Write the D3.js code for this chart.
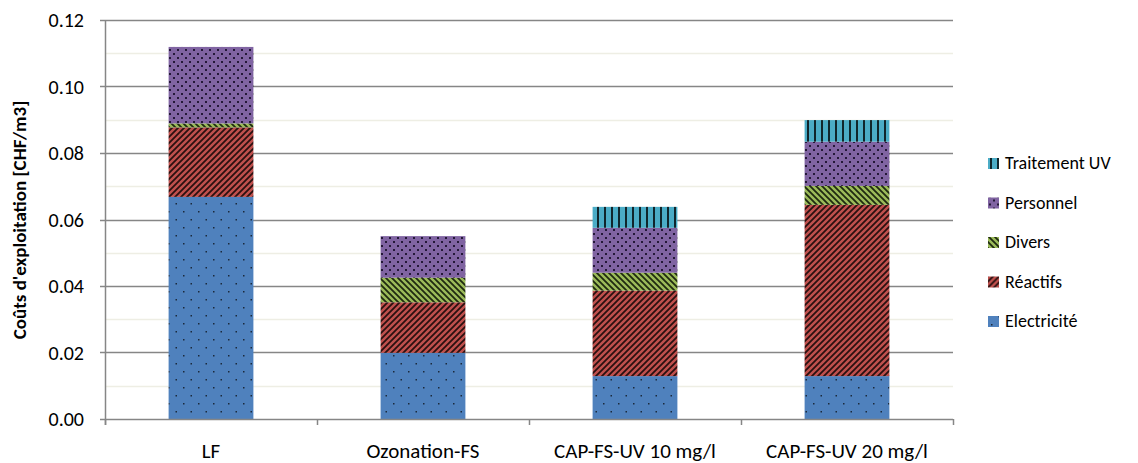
<!DOCTYPE html>
<html><head><meta charset="utf-8">
<script src="https://cdn.jsdelivr.net/npm/d3@7"></script>
<style>body{margin:0;background:#fff}svg{display:block}text{font-family:Carlito,"Liberation Sans Narrow","Liberation Sans",sans-serif}</style>
</head><body><svg id="c" width="1138" height="463"></svg>
<script>
const categories = ["LF", "Ozonation-FS", "CAP-FS-UV 10 mg/l", "CAP-FS-UV 20 mg/l"];
const seriesNames = ["Electricité", "Réactifs", "Divers", "Personnel", "Traitement UV"];
const electricite = [0.0668, 0.0199, 0.0129, 0.0129];
const reactifs = [0.0209, 0.0152, 0.0257, 0.0515];
const divers = [0.0012, 0.0074, 0.0054, 0.0057];
const personnel = [0.0230, 0.0125, 0.0135, 0.0133];
const traitementUV = [0, 0, 0.0063, 0.0065];
const yTicks = [0, 0.02, 0.04, 0.06, 0.08, 0.10, 0.12];
const yMinor = [0.01, 0.03, 0.05, 0.07, 0.09, 0.11];
const colors = ["#4F81BD", "#C0504D", "#9BBB59", "#8064A2", "#4BACC6"];

const svg = d3.select("#c");
const m = {l: 105, r: 953, t: 20, b: 419};
const x = d3.scaleBand().domain(categories).range([m.l, m.r]).paddingInner(0.6).paddingOuter(0.3);
const xb = d3.scaleBand().domain(categories).range([m.l, m.r]);
const y = d3.scaleLinear().domain([0, 0.12]).range([m.b, m.t]);

const defs = svg.append("defs");
// Electricité: sparse dots
let p = defs.append("pattern").attr("id", "p0").attr("patternUnits", "userSpaceOnUse").attr("width", 15).attr("height", 16);
p.append("rect").attr("width", 15).attr("height", 16).attr("fill", colors[0]);
p.append("rect").attr("x", 3).attr("y", 3).attr("width", 1.5).attr("height", 1.5).attr("fill", "#1b2a3c");
p.append("rect").attr("x", 10.5).attr("y", 11).attr("width", 1.5).attr("height", 1.5).attr("fill", "#1b2a3c");
// Réactifs: /// lines
p = defs.append("pattern").attr("id", "p1").attr("patternUnits", "userSpaceOnUse").attr("width", 6).attr("height", 6);
p.append("rect").attr("width", 6).attr("height", 6).attr("fill", colors[1]);
p.append("path").attr("d", "M-1,7 L7,-1 M-4,4 L4,-4 M2,10 L10,2").attr("stroke", "#2a1010").attr("stroke-width", 1.8);
// Divers: \\\ lines
p = defs.append("pattern").attr("id", "p2").attr("patternUnits", "userSpaceOnUse").attr("width", 6).attr("height", 6);
p.append("rect").attr("width", 6).attr("height", 6).attr("fill", colors[2]);
p.append("path").attr("d", "M-1,-1 L7,7 M-4,2 L2,8 M2,-4 L8,2").attr("stroke", "#1f2a10").attr("stroke-width", 1.8);
// Personnel: dense dots
p = defs.append("pattern").attr("id", "p3").attr("patternUnits", "userSpaceOnUse").attr("width", 8).attr("height", 8);
p.append("rect").attr("width", 8).attr("height", 8).attr("fill", colors[3]);
p.append("rect").attr("x", 1).attr("y", 1).attr("width", 2).attr("height", 2).attr("fill", "#241838");
p.append("rect").attr("x", 5).attr("y", 5).attr("width", 2).attr("height", 2).attr("fill", "#241838");
// Traitement UV: vertical lines
p = defs.append("pattern").attr("id", "p4").attr("patternUnits", "userSpaceOnUse").attr("width", 7).attr("height", 7);
p.append("rect").attr("width", 7).attr("height", 7).attr("fill", colors[4]);
p.append("rect").attr("x", 2).attr("y", 0).attr("width", 2).attr("height", 7).attr("fill", "#10262c");

// minor gridlines
svg.append("g").selectAll("line").data(yMinor).join("line")
  .attr("x1", m.l).attr("x2", m.r).attr("y1", d => Math.round(y(d)) + 0.5).attr("y2", d => Math.round(y(d)) + 0.5)
  .attr("stroke", "#EEEEE4").attr("stroke-width", 1.5);
// major gridlines
svg.append("g").selectAll("line").data(yTicks.slice(1)).join("line")
  .attr("x1", m.l - 5).attr("x2", m.r).attr("y1", d => Math.round(y(d)) + 0.5).attr("y2", d => Math.round(y(d)) + 0.5)
  .attr("stroke", "#868686").attr("stroke-width", 1.5);

// stacks
const rows = categories.map((c, i) => ({cat: c, "Electricité": electricite[i], "Réactifs": reactifs[i], "Divers": divers[i], "Personnel": personnel[i], "Traitement UV": traitementUV[i]}));
const stacked = d3.stack().keys(seriesNames)(rows);
svg.append("g").selectAll("g").data(stacked).join("g")
  .attr("fill", (d, i) => `url(#p${i})`)
  .selectAll("rect").data(d => d.filter(s => s[1] - s[0] > 0)).join("rect")
  .attr("x", d => x(d.data.cat)).attr("width", x.bandwidth())
  .attr("y", d => y(d[1])).attr("height", d => y(d[0]) - y(d[1]));

// axes
const ax = svg.append("g").attr("stroke", "#868686").attr("stroke-width", 1.5);
ax.append("line").attr("x1", m.l + 0.5).attr("x2", m.l + 0.5).attr("y1", m.t).attr("y2", m.b + 6);
ax.append("line").attr("x1", m.l - 5).attr("x2", m.r).attr("y1", m.b + 0.5).attr("y2", m.b + 0.5);
ax.selectAll(".xt").data(categories.map(c => xb(c)).concat([m.r])).join("line")
  .attr("x1", d => d + 0.5).attr("x2", d => d + 0.5).attr("y1", m.b).attr("y2", m.b + 6);

// y tick labels
svg.append("g").selectAll("text").data(yTicks).join("text")
  .attr("x", 84).attr("y", d => y(d)).attr("dy", "0.35em").attr("text-anchor", "end")
  .attr("font-size", 20).attr("fill", "#000").text(d => d3.format(".2f")(d));
// x labels
svg.append("g").selectAll("text").data(categories).join("text")
  .attr("x", d => xb(d) + xb.bandwidth() / 2).attr("y", 458).attr("text-anchor", "middle")
  .attr("font-size", 21).attr("fill", "#000").text(d => d);
// y title
svg.append("text").attr("transform", "translate(26,220) rotate(-90)").attr("text-anchor", "middle")
  .attr("font-size", 19).attr("font-weight", "bold").text("Coûts d'exploitation [CHF/m3]");

// legend
const legendOrder = seriesNames.map((n, i) => ({n, i})).reverse();
const lg = svg.append("g").selectAll("g").data(legendOrder).join("g")
  .attr("transform", (d, k) => `translate(988,${163 + k * 39.5})`);
lg.append("rect").attr("x", 0).attr("y", -5).attr("width", 11).attr("height", 11).attr("fill", d => `url(#p${d.i})`);
lg.append("text").attr("x", 17).attr("dy", "0.35em").attr("font-size", 18).text(d => d.n);
</script></body></html>
